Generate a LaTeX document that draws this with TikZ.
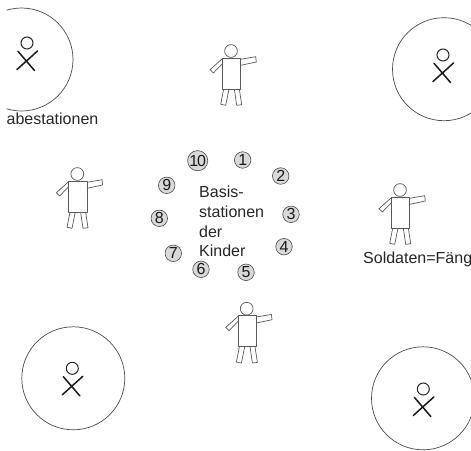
\documentclass[tikz,border=0pt]{standalone}
\usepackage{fontspec}
\setmainfont{Liberation Sans}
\tikzset{
  x=1pt,y=-1pt,
  ln/.style={draw=black!65,line width=0.7pt,line join=round},
  station/.style={circle,draw=black!70,fill=black!15,line width=0.6pt,minimum size=16.5pt,inner sep=0pt,font=\fontsize{16}{16}\selectfont,text=black!90},
  label/.style={inner sep=0pt,anchor=base west,font=\fontsize{16}{20}\selectfont,text=black!85},
  ring/.style={circle,draw=black!70,line width=0.7pt,minimum size=103pt,inner sep=0pt},
  soldier/.pic={
    \draw[ln] (0,0) circle (6.4);
    \draw[ln] (-8.7,7.0) rectangle (9.7,38.0);
    \draw[ln] (-8.7,7.7) -- (-21,18.7) -- (-17.7,22) -- (-8.7,12.7);
    \draw[ln] (9.7,8.3) -- (24.7,5.7) -- (25.3,11) -- (9.7,14.3);
    \draw[ln] (-7.3,38) -- (-10.3,53.3) -- (-5.3,54.3) -- (-2,38);
    \draw[ln] (3.3,38) -- (5.7,54.3) -- (10.7,53.7) -- (8.3,38);
  },
  child/.pic={
    \draw[line width=1pt,draw=black!85] (0,0) circle (6);
    \draw[line width=1.5pt,draw=black!90,line cap=round] (10.5,8) -- (-10,26.5);
    \draw[line width=1.5pt,draw=black!90,line cap=round] (-9,8.3) -- (7.5,27.5);
  }
}
\begin{document}
\begin{tikzpicture}
\useasboundingbox (0,0) rectangle (471,450);
\begin{scope}
\clip (6.5,0) rectangle (471,450);
\node[ring] (c1) at (21.5,59.5) {};
\node[ring] (c2) at (444,69.2) {};
\node[ring] (c3) at (73.3,378.3) {};
\node[ring] (c4) at (423,398.3) {};
\pic at (27,43) {child};
\pic at (443,55) {child};
\pic at (72.3,368.3) {child};
\pic at (423.3,389) {child};
\node[label] (t1) at (6.5,124) {abestationen};
\node[label] (t2) at (363,263) {Soldaten=Fäng};
\end{scope}
\pic at (231,51) {soldier};
\pic at (77.3,174) {soldier};
\pic at (400,190) {soldier};
\pic at (246.7,308.7) {soldier};
\node[station] (s1) at (242.7,160) {1};
\node[station] (s2) at (280.7,176) {2};
\node[station] (s3) at (291,214.3) {3};
\node[station] (s4) at (284,246.7) {4};
\node[station] (s5) at (246,272.3) {5};
\node[station] (s6) at (201,269.3) {6};
\node[station] (s7) at (173.3,253.3) {7};
\node[station] (s8) at (159.3,218.3) {8};
\node[station] (s9) at (166.7,185.3) {9};
\node[station] (s10) at (197.7,160.7) {1\kern-1pt 0};
\node[label] (b1) at (199,197) {Basis-};
\node[label] (b2) at (199,217) {stationen};
\node[label] (b3) at (199,237) {der};
\node[label] (b4) at (199,256.5) {Kinder};
\end{tikzpicture}
\end{document}
